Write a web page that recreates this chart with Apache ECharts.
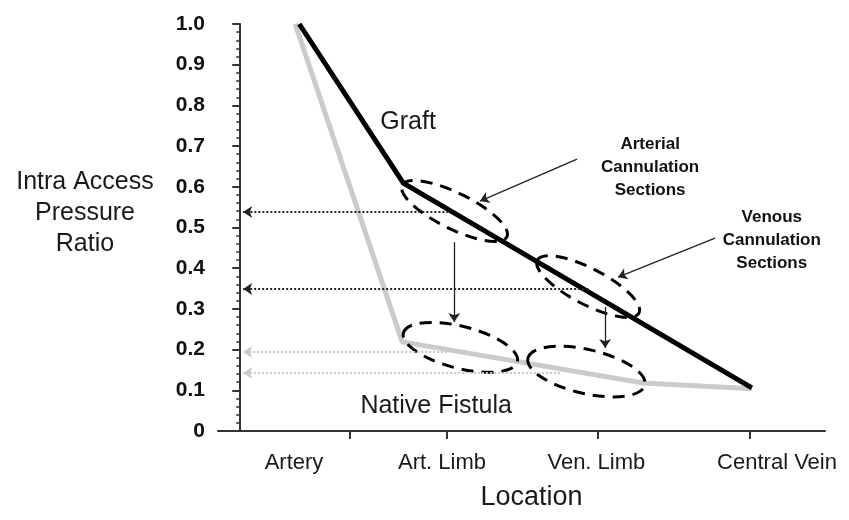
<!DOCTYPE html>
<html>
<head>
<meta charset="utf-8">
<script src="https://cdn.jsdelivr.net/npm/echarts@6/dist/echarts.min.js"></script>
<style>
  html, body { margin: 0; padding: 0; background: #fff; }
  #chart { width: 849px; height: 520px; }
</style>
</head>
<body>
<div id="chart"></div>
<script>
// x is a position along the access (0 = y axis, 10 = end of x axis)
var locationNames = ['Artery', 'Art. Limb', 'Ven. Limb', 'Central Vein'];
var locationLabelAt = [0.92, 3.45, 6.09, 9.18];
var locationTickAt = [1.88, 3.54, 6.12, 8.72];

var graftPoints = [[1.01, 1.0], [2.79, 0.609], [8.75, 0.106]];
var fistulaPoints = [[0.94, 1.0], [2.77, 0.219], [6.89, 0.118], [8.75, 0.104]];

// dotted read-off lines: [xFrom, xTo, y]
var graftReadOff = [[3.56, 0.05, 0.538], [5.95, 0.05, 0.349]];
var fistulaReadOff = [[3.54, 0.05, 0.194], [5.47, 0.05, 0.1425]];

// arrows: [x1, y1, x2, y2]
var pointerArrows = [
    [5.76, 0.668, 4.10, 0.565],
    [8.12, 0.474, 6.46, 0.378],
    [3.66, 0.464, 3.66, 0.268],
    [6.24, 0.305, 6.24, 0.204]
];

// cannulation ellipses: ends of the long axis [x1, y1, x2, y2]
var cannulationZones = [
    [2.77, 0.604, 4.56, 0.477],
    [5.08, 0.420, 6.82, 0.290],
    [2.79, 0.241, 4.74, 0.170],
    [4.92, 0.179, 6.92, 0.113]
];
var zoneHalfWidth = [18, 18, 21, 22];

var notes = [
    [2.87, 0.759, 'Graft'],
    [3.35, 0.061, 'Native Fistula'],
    [7.01, 0.649, 'Arterial\nCannulation\nSections'],
    [9.09, 0.469, 'Venous\nCannulation\nSections']
];

var FONT = '"Liberation Sans", Arial, sans-serif';
var chart = echarts.init(document.getElementById('chart'));

function lineItems(list, color, dotted) {
    return list.map(function (r) {
        return [
            { coord: [r[0], r[2]] },
            { coord: [r[1], r[2]], lineStyle: { color: color, width: 2, type: dotted } }
        ];
    });
}

var option = {
    animation: false,
    backgroundColor: '#fff',
    grid: { left: 218, right: 24, top: 24, bottom: 89 },
    graphic: [{
        type: 'text',
        x: 85,
        y: 167,
        style: {
            text: 'Intra Access\nPressure\nRatio',
            font: '25px ' + FONT,
            fill: '#1a1a1a',
            align: 'center',
            verticalAlign: 'top',
            lineHeight: 31
        }
    }],
    xAxis: {
        type: 'value',
        min: -0.38,
        max: 10,
        name: 'Location',
        nameLocation: 'middle',
        nameGap: 53,
        nameTextStyle: { fontFamily: FONT, fontSize: 27, color: '#1a1a1a', padding: [0, 0, 0, 20] },
        axisLine: { lineStyle: { color: '#333', width: 2 } },
        axisTick: { customValues: locationTickAt, length: 8, lineStyle: { color: '#333', width: 2 } },
        axisLabel: {
            customValues: locationLabelAt,
            margin: 21,
            fontFamily: FONT,
            fontSize: 22,
            color: '#1a1a1a',
            formatter: function (v) {
                var i = locationLabelAt.indexOf(v);
                return i >= 0 ? locationNames[i] : '';
            }
        },
        splitLine: { show: false }
    },
    yAxis: {
        type: 'value',
        min: 0,
        max: 1,
        interval: 0.1,
        axisLine: { show: true, onZero: true, lineStyle: { color: '#333', width: 2 } },
        axisTick: { show: true, length: 8, lineStyle: { color: '#333', width: 2 } },
        minorTick: { show: true, splitNumber: 5, length: 4, lineStyle: { color: '#333', width: 1.5 } },
        axisLabel: {
            margin: 13,
            fontFamily: FONT,
            fontSize: 21,
            fontWeight: 'bold',
            color: '#111',
            formatter: function (v) { return v === 0 ? '0' : v.toFixed(1); }
        },
        splitLine: { show: false }
    },
    series: [
        {
            name: 'Native Fistula',
            type: 'line',
            data: fistulaPoints,
            symbol: 'none',
            lineStyle: { color: '#cbcbcb', width: 5 },
            z: 2,
            markLine: {
                silent: true,
                symbol: ['none', 'arrow'],
                symbolSize: 9,
                label: { show: false },
                lineStyle: { color: '#c8c8c8', width: 2, type: 'dotted' },
                data: lineItems(fistulaReadOff, '#c8c8c8', 'dotted')
            }
        },
        {
            name: 'Graft',
            type: 'line',
            data: graftPoints,
            symbol: 'none',
            lineStyle: { color: '#000', width: 5 },
            z: 3,
            markLine: {
                silent: true,
                symbol: ['none', 'arrow'],
                symbolSize: 9,
                label: { show: false },
                lineStyle: { color: '#222', width: 2, type: 'dotted' },
                data: lineItems(graftReadOff, '#222', 'dotted').concat(pointerArrows.map(function (a) {
                    return [
                        { coord: [a[0], a[1]] },
                        { coord: [a[2], a[3]], lineStyle: { color: '#222', width: 1.3, type: 'solid' } }
                    ];
                }))
            }
        },
        {
            name: 'zones',
            type: 'custom',
            data: cannulationZones,
            z: 4,
            silent: true,
            clip: false,
            renderItem: function (params, api) {
                var p1 = api.coord([api.value(0), api.value(1)]);
                var p2 = api.coord([api.value(2), api.value(3)]);
                var dx = p2[0] - p1[0], dy = p2[1] - p1[1];
                return {
                    type: 'ellipse',
                    x: (p1[0] + p2[0]) / 2,
                    y: (p1[1] + p2[1]) / 2,
                    rotation: -Math.atan2(dy, dx),
                    shape: { cx: 0, cy: 0, rx: Math.sqrt(dx * dx + dy * dy) / 2, ry: zoneHalfWidth[params.dataIndex] },
                    style: { fill: 'none', stroke: '#000', lineWidth: 3, lineDash: [12, 8] }
                };
            }
        },
        {
            name: 'notes',
            type: 'scatter',
            symbolSize: 0,
            silent: true,
            z: 5,
            itemStyle: { opacity: 1 },
            label: {
                show: true,
                position: 'inside',
                fontFamily: FONT,
                formatter: function (p) { return p.value[2]; }
            },
            // first two notes plain and large, the rest bold
            data: notes.map(function (n, i) {
                return {
                    value: n,
                    label: i < 2
                        ? { fontSize: 25, fontWeight: 'normal', color: '#1a1a1a' }
                        : { fontSize: 17, fontWeight: 'bold', lineHeight: 23, color: '#111' }
                };
            })
        }
    ]
};

chart.setOption(option);
</script>
</body>
</html>
